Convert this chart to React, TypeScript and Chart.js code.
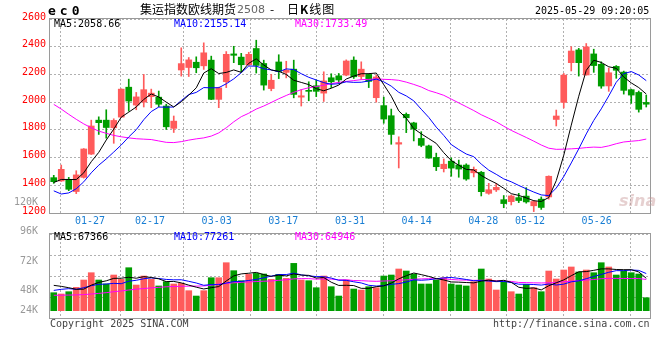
import React, { useEffect, useRef } from 'react';
import { Chart, registerables } from 'chart.js';

Chart.register(...registerables);

// ---------- data ----------
const dates = [
  '01-27', '02-05', '02-06', '02-07', '02-10', '02-11', '02-12', '02-13', '02-14', '02-17',
  '02-18', '02-19', '02-20', '02-21', '02-24', '02-25', '02-26', '02-27', '02-28', '03-03',
  '03-04', '03-05', '03-06', '03-07', '03-10', '03-11', '03-12', '03-13', '03-14', '03-17',
  '03-18', '03-19', '03-20', '03-21', '03-24', '03-25', '03-26', '03-27', '03-28', '03-31',
  '04-01', '04-02', '04-03', '04-04', '04-07', '04-08', '04-09', '04-10', '04-11', '04-14',
  '04-15', '04-16', '04-17', '04-18', '04-21', '04-22', '04-23', '04-24', '04-25', '04-28',
  '04-29', '04-30', '05-06', '05-07', '05-08', '05-09', '05-12', '05-13', '05-14', '05-15',
  '05-16', '05-19', '05-20', '05-21', '05-22', '05-23', '05-26', '05-27', '05-28', '05-29',
];

const open = [
  1455, 1431, 1443, 1355, 1457, 1625, 1870, 1870, 1815, 1892,
  2108, 1979, 2000, 2040, 2036, 1972, 1811, 2232, 2250, 2288,
  2262, 2303, 2020, 2147, 2348, 2325, 2270, 2387, 2279, 2098,
  2290, 2215, 2238, 2036, 2085, 2118, 2065, 2176, 2190, 2195,
  2303, 2185, 2200, 2032, 1975, 1902, 1697, 1912, 1850, 1738,
  1684, 1601, 1520, 1574, 1546, 1546, 1490, 1494, 1342, 1367,
  1296, 1282, 1311, 1322, 1252, 1300, 1316, 1875, 1998, 2285,
  2377, 2196, 2348, 2273, 2117, 2258, 2217, 2090, 2070, 1998,
];
const high = [
  1472, 1546, 1457, 1505, 1665, 1870, 1894, 1945, 1880, 2096,
  2166, 2070, 2200, 2094, 2080, 1985, 1900, 2392, 2322, 2327,
  2428, 2332, 2108, 2365, 2403, 2352, 2360, 2447, 2303, 2200,
  2342, 2295, 2303, 2090, 2147, 2160, 2219, 2205, 2207, 2305,
  2327, 2291, 2205, 2195, 2036, 1950, 1750, 1922, 1855, 1787,
  1690, 1632, 1590, 1598, 1582, 1555, 1532, 1500, 1414, 1414,
  1326, 1330, 1342, 1383, 1290, 1316, 1468, 1943, 2207, 2400,
  2388, 2423, 2382, 2291, 2246, 2264, 2224, 2094, 2080, 2051,
];
const low = [
  1414, 1428, 1361, 1340, 1452, 1622, 1767, 1740, 1703, 1890,
  1935, 1945, 1965, 1960, 1967, 1803, 1781, 2188, 2185, 2212,
  2236, 2018, 1960, 2105, 2285, 2215, 2265, 2210, 2087, 2082,
  2170, 2175, 2031, 1972, 2010, 2040, 2005, 2105, 2135, 2190,
  2171, 2165, 2105, 2000, 1848, 1696, 1525, 1780, 1720, 1678,
  1595, 1506, 1496, 1465, 1458, 1436, 1460, 1323, 1335, 1355,
  1238, 1258, 1275, 1271, 1210, 1226, 1300, 1828, 1958, 2225,
  2188, 2195, 2215, 2100, 2078, 2172, 2058, 1991, 1928, 1965,
];
const close = [
  1426, 1515, 1371, 1475, 1662, 1828, 1852, 1817, 1868, 2094,
  2008, 2038, 2090, 2065, 1985, 1822, 1863, 2278, 2305, 2248,
  2356, 2020, 2103, 2345, 2338, 2270, 2345, 2265, 2123, 2158,
  2222, 2230, 2056, 2046, 2078, 2078, 2153, 2147, 2160, 2297,
  2183, 2238, 2150, 2182, 1878, 1767, 1708, 1887, 1806, 1688,
  1596, 1534, 1552, 1524, 1517, 1445, 1515, 1354, 1368, 1385,
  1268, 1323, 1290, 1280, 1283, 1240, 1465, 1900, 2195, 2369,
  2285, 2399, 2264, 2116, 2212, 2230, 2085, 2051, 1948, 1985,
];

const ma5 = [
  1420, 1442, 1442, 1441, 1489.8, 1570.2, 1637.6, 1726.8, 1805.4, 1891.8,
  1927.8, 1965, 2019.6, 2059, 2037.2, 2000, 1965, 2002.6, 2050.6, 2103.2,
  2210, 2241.4, 2206.4, 2214.4, 2232.4, 2215.2, 2280.2, 2312.6, 2268.2, 2232.2,
  2222.6, 2199.6, 2157.8, 2142.4, 2126.4, 2097.6, 2082.2, 2100.4, 2123.2, 2167,
  2188, 2205, 2205.6, 2210, 2126.2, 2043, 1937, 1884.4, 1809.2, 1771.2,
  1737, 1702.2, 1635.2, 1578.8, 1544.6, 1514.4, 1510.6, 1471, 1439.8, 1413.4,
  1378, 1339.6, 1326.8, 1309.2, 1288.8, 1283.2, 1311.6, 1433.6, 1616.6, 1833.8,
  2042.8, 2229.6, 2302.4, 2286.6, 2255.2, 2244.2, 2181.4, 2138.8, 2105.2, 2058.66,
];
const ma10 = [
  1360, 1337, 1345, 1375, 1425, 1490, 1545, 1590, 1640, 1690.8,
  1749, 1801.3, 1873.2, 1932.2, 1964.5, 1963.9, 1965, 2011.1, 2054.8, 2070.2,
  2105, 2103.2, 2104.5, 2132.5, 2167.8, 2212.6, 2260.8, 2259.5, 2241.3, 2232.3,
  2218.9, 2239.9, 2235.2, 2205.3, 2179.3, 2160.1, 2140.9, 2129.1, 2132.8, 2146.7,
  2142.8, 2143.6, 2153, 2166.6, 2146.6, 2115.5, 2071, 2045, 2009.6, 1948.7,
  1890, 1819.6, 1759.8, 1694, 1657.9, 1625.7, 1606.4, 1553.1, 1509.3, 1479,
  1446.2, 1425.1, 1398.9, 1374.5, 1351.1, 1330.6, 1325.6, 1380.2, 1462.9, 1561.3,
  1663, 1770.6, 1868, 1951.6, 2044.5, 2143.5, 2205.5, 2220.6, 2195.9, 2155.14,
];
const ma30 = [
  1984, 1950, 1912, 1876, 1843, 1815, 1791, 1775, 1760, 1750,
  1742, 1736, 1733, 1730, 1720, 1710, 1708, 1715, 1726, 1735,
  1742, 1755, 1778, 1815, 1858, 1895, 1920, 1950, 1972, 1997.8,
  2024.3, 2048.1, 2071, 2090, 2103.9, 2112.2, 2122.2, 2133.2, 2143, 2149.7,
  2155.6, 2162.2, 2164.2, 2168.1, 2164.6, 2162.7, 2157.6, 2144.5, 2127.9, 2109.2,
  2083.9, 2067.7, 2049.3, 2022, 1994.6, 1967.1, 1939.4, 1909.1, 1883.9, 1858.1,
  1826.3, 1796.1, 1770.6, 1745, 1718.5, 1690.6, 1667.7, 1659.4, 1660.6, 1663,
  1666.4, 1671.8, 1675.6, 1673.4, 1684.5, 1699.9, 1712.5, 1718, 1722.7, 1733.49,
];

const volume = [
  37400, 34700, 39500, 48500, 63800, 79000, 63800, 55500, 74200, 65100,
  89400, 53400, 72100, 65100, 51400, 60300, 55500, 56800, 41600, 30500,
  41600, 68600, 68600, 99800, 83200, 62400, 75500, 77600, 76300, 65100,
  75500, 67200, 98400, 63800, 62400, 47800, 72100, 49900, 30500, 63800,
  45100, 43000, 49900, 47800, 72100, 74200, 86700, 82500, 76300, 55500,
  55500, 63800, 68600, 55500, 53400, 51400, 60300, 86700, 65900, 43000,
  60300, 39500, 34700, 54700, 47800, 39500, 82500, 65900, 84600, 90900,
  80500, 84600, 79000, 99800, 90900, 74200, 82500, 79000, 76300, 27000,
];
const volMa5 = [
  52700, 50600, 47800, 44400, 44780, 53100, 58920, 62120, 67260, 67520,
  69600, 67520, 70840, 69020, 66280, 60460, 60880, 57820, 53120, 48940,
  45200, 47820, 50180, 61820, 72360, 76520, 77900, 79700, 75000, 71380,
  74000, 72340, 76500, 74000, 73460, 67920, 68900, 59200, 52540, 52820,
  52280, 46460, 46460, 49920, 51580, 57400, 66140, 72660, 78360, 75040,
  71300, 66720, 63940, 59780, 59360, 58540, 57840, 61460, 63540, 61460,
  63240, 59080, 48680, 46440, 47400, 43240, 51840, 58080, 64060, 72680,
  80880, 81300, 83920, 86960, 86960, 85700, 85280, 85280, 80580, 67366,
];
const volMa10 = [
  42200, 44400, 45800, 44400, 47800, 52000, 54800, 55500, 56800, 56150,
  61350, 63220, 66480, 68140, 66900, 65030, 64200, 64330, 61070, 57610,
  52830, 54350, 54000, 57470, 60650, 60860, 62860, 64940, 68410, 71870,
  75260, 75120, 78100, 74500, 72420, 70960, 70620, 67850, 63270, 63140,
  60100, 57680, 52830, 51230, 52200, 54840, 56300, 59560, 64140, 63310,
  64350, 66430, 68300, 69070, 67200, 64920, 62280, 62700, 61660, 60410,
  60890, 58460, 55070, 54990, 54430, 53240, 55460, 53380, 55250, 60040,
  62060, 66570, 71000, 75510, 79820, 83290, 83290, 84600, 83770, 77261,
];
const volMa30 = [
  32000, 32200, 32500, 32800, 33500, 34700, 36000, 37500, 39500, 41000,
  43000, 44800, 46000, 47500, 48500, 49700, 50300, 50800, 51000, 51200,
  51500, 53000, 55500, 56800, 58000, 59000, 59800, 60600, 61300, 61880,
  63150, 64230, 66190, 66700, 66660, 65620, 65890, 65710, 64250, 64210,
  62730, 62380, 61640, 61070, 61760, 62220, 63260, 64120, 65270, 66110,
  66570, 66410, 66410, 64930, 63940, 63570, 63070, 63370, 63020, 62290,
  61780, 60860, 58730, 58430, 57940, 57670, 58010, 58550, 60350, 61250,
  62430, 63820, 64790, 66520, 67150, 67150, 67010, 66890, 66890, 64946,
];

const priceTicks = [1200, 1400, 1600, 1800, 2000, 2200, 2400, 2600];
const dateTicks = ['01-27', '02-17', '03-03', '03-17', '03-31', '04-14', '04-28', '05-12', '05-26'];
const volTickValues = [24000, 48000, 72000, 96000, 120000];
const volTickLabels = ['24K', '48K', '72K', '96K', '120K'];

// ---------- styles ----------
const UP = '#ff5b5b';
const DOWN = '#009d00';
const GRID = '#b0b0b0';
const FRAME = '#9a9a9a';
const MONO = "'DejaVu Sans Mono', monospace";
const CJK = "'Noto Sans CJK SC', sans-serif";

const framePlugin = {
  id: 'frame',
  afterDraw(chart: any) {
    const { ctx, chartArea: a } = chart;
    ctx.save();
    ctx.strokeStyle = FRAME;
    ctx.lineWidth = 1;
    ctx.setLineDash([]);
    ctx.strokeRect(Math.round(a.left) - 0.5, Math.round(a.top) - 0.5, Math.round(a.right - a.left) + 1, Math.round(a.bottom - a.top) + 1);
    ctx.restore();
  },
};

function dateAxis(showLabels: boolean, height: number) {
  const tickIdx = dateTicks.map((d) => dates.indexOf(d));
  return {
    type: 'linear',
    position: 'bottom',
    min: -0.5,
    max: dates.length - 0.5,
    afterBuildTicks: (s: any) => {
      s.ticks = tickIdx.map((i) => ({ value: i + 0.5 }));
    },
    afterFit: (s: any) => {
      s.height = height;
    },
    ticks: {
      display: showLabels,
      autoSkip: false,
      maxRotation: 0,
      color: '#1a7fd4',
      font: { family: MONO, size: 10 },
      padding: 2,
      callback: (v: any) => dates[Math.round(Number(v) - 0.5)],
    },
    grid: { color: GRID, drawTicks: false, lineWidth: 1 },
    border: { display: false, dash: [2, 2] },
  };
}

function lineDs(label: string, data: number[], color: string) {
  return {
    type: 'line',
    label,
    data,
    borderColor: color,
    backgroundColor: color,
    borderWidth: 1,
    pointRadius: 0,
    tension: 0,
    order: 0,
    xAxisID: 'x',
    yAxisID: 'y',
  };
}

export default function App() {
  const priceRef = useRef<HTMLCanvasElement>(null);
  const volRef = useRef<HTMLCanvasElement>(null);

  useEffect(() => {
    const colors = close.map((c, i) => (c >= open[i] ? UP : DOWN));

    const price = new Chart(priceRef.current as HTMLCanvasElement, {
      type: 'bar',
      data: {
        labels: dates,
        datasets: [
          lineDs('MA5', ma5, '#000000'),
          lineDs('MA10', ma10, '#0000ff'),
          lineDs('MA30', ma30, '#ff00ff'),
          {
            type: 'bar',
            label: 'wick',
            data: dates.map((_, i) => [low[i], high[i]]),
            backgroundColor: colors,
            barThickness: 1,
            grouped: false,
            order: 2,
            xAxisID: 'x',
            yAxisID: 'y',
          },
          {
            type: 'bar',
            label: 'body',
            data: dates.map((_, i) => [open[i], close[i]]),
            backgroundColor: colors,
            barThickness: 6,
            minBarLength: 1,
            grouped: false,
            order: 1,
            xAxisID: 'x',
            yAxisID: 'y',
          },
        ] as any,
      },
      options: {
        animation: false,
        responsive: false,
        maintainAspectRatio: false,
        events: [],
        layout: { padding: { top: 19, right: 10, left: 0, bottom: 0 } },
        plugins: { legend: { display: false }, tooltip: { enabled: false } },
        scales: {
          x: { type: 'category', display: false, offset: true },
          xt: dateAxis(true, 19),
          y: {
            type: 'linear',
            position: 'left',
            min: 1200,
            max: 2600,
            afterBuildTicks: (s: any) => {
              s.ticks = priceTicks.map((v) => ({ value: v }));
            },
            afterFit: (s: any) => {
              s.width = 50;
            },
            ticks: {
              color: '#ff0000',
              font: { family: MONO, size: 10 },
              padding: 4,
              labelOffset: -2,
              autoSkip: false,
              callback: (v: any) => String(v),
            },
            grid: { color: GRID, drawTicks: false, lineWidth: 1 },
            border: { display: false, dash: [2, 2] },
          },
        } as any,
      },
      plugins: [framePlugin],
    } as any);

    const volMin = -15200;
    const volMax = 159500;
    const vol = new Chart(volRef.current as HTMLCanvasElement, {
      type: 'bar',
      data: {
        labels: dates,
        datasets: [
          lineDs('MA5', volMa5, '#000000'),
          lineDs('MA10', volMa10, '#0000ff'),
          lineDs('MA30', volMa30, '#ff00ff'),
          {
            type: 'bar',
            label: 'volume',
            data: volume,
            backgroundColor: colors,
            barThickness: 6,
            order: 1,
            xAxisID: 'x',
            yAxisID: 'y',
          },
        ] as any,
      },
      options: {
        animation: false,
        responsive: false,
        maintainAspectRatio: false,
        events: [],
        layout: { padding: { top: 44, right: 10, left: 0, bottom: 0 } },
        plugins: { legend: { display: false }, tooltip: { enabled: false } },
        scales: {
          x: { type: 'category', display: false, offset: true },
          xv: dateAxis(false, 22),
          y: {
            type: 'linear',
            position: 'right',
            min: volMin,
            max: volMax,
            afterBuildTicks: (s: any) => {
              s.ticks = [0, 1, 2, 3, 4].map((k) => ({ value: s.min + (k * (s.max - s.min)) / 4 }));
            },
            afterFit: (s: any) => {
              s.width = 0;
            },
            ticks: { display: false },
            grid: { color: GRID, drawTicks: false, lineWidth: 1 },
            border: { display: false, dash: [2, 2] },
          },
          yl: {
            type: 'linear',
            position: 'left',
            min: 25790,
            max: 94130,
            afterBuildTicks: (s: any) => {
              const floor = s.min + (s.max - s.min) * 0.087;
              s.ticks = volTickValues.map((v) => ({ value: Math.max(v, floor) }));
            },
            afterFit: (s: any) => {
              s.width = 50;
            },
            ticks: {
              color: '#999999',
              font: { family: MONO, size: 10 },
              padding: 4,
              autoSkip: false,
              callback: (_v: any, i: number) => volTickLabels[i],
            },
            grid: { display: false },
            border: { display: false },
          },
        } as any,
      },
      plugins: [framePlugin],
    } as any);

    return () => {
      price.destroy();
      vol.destroy();
    };
  }, []);

  const txt = (extra: any): any => ({
    position: 'absolute',
    whiteSpace: 'pre',
    fontFamily: MONO,
    fontSize: 10,
    lineHeight: '12px',
    ...extra,
  });

  return (
    <div style={{ position: 'fixed', left: 0, top: 0, width: 660, height: 360, background: '#fff', overflow: 'hidden' }}>
      <canvas ref={priceRef} width={660} height={232} style={{ position: 'absolute', left: 0, top: 0 }} />
      <canvas ref={volRef} width={660} height={150} style={{ position: 'absolute', left: 0, top: 190 }} />

      <div style={txt({ left: 48, top: 3, fontSize: 13, fontWeight: 'bold', letterSpacing: '4px', lineHeight: '15px' })}>ec0</div>
      <div style={txt({ left: 140, top: 1, fontFamily: CJK, fontSize: 12, lineHeight: '15px' })}>集运指数欧线期货</div>
      <div style={txt({ left: 237, top: 3, fontFamily: "'DejaVu Sans', sans-serif", fontSize: 11, color: '#666', lineHeight: '13px' })}>2508</div>
      <div style={txt({ left: 270, top: 1, fontFamily: CJK, fontSize: 12, lineHeight: '15px' })}>-</div>
      <div style={txt({ left: 287, top: 1, fontFamily: CJK, fontSize: 12, lineHeight: '15px', letterSpacing: '1px' })}>
        日<b>K</b>线图
      </div>
      <div style={txt({ left: 535, top: 5 })}>2025-05-29 09:20:05</div>

      <div style={txt({ left: 54, top: 18, color: '#000' })}>MA5:2058.66</div>
      <div style={txt({ left: 174, top: 18, color: '#0000ff' })}>MA10:2155.14</div>
      <div style={txt({ left: 295, top: 18, color: '#ff00ff' })}>MA30:1733.49</div>

      <div style={txt({ left: 54, top: 231, color: '#000' })}>MA5:67366</div>
      <div style={txt({ left: 174, top: 231, color: '#0000ff' })}>MA10:77261</div>
      <div style={txt({ left: 295, top: 231, color: '#ff00ff' })}>MA30:64946</div>

      <div style={txt({ left: 50, top: 318, color: '#444' })}>Copyright 2025 SINA.COM</div>
      <div style={txt({ left: 493, top: 318, color: '#444' })}>http://finance.sina.com.cn</div>

      <div style={txt({ left: 619, top: 192, fontFamily: "'DejaVu Sans', sans-serif", fontSize: 16, fontStyle: 'italic', fontWeight: 'bold', color: 'rgba(200,150,150,0.45)', lineHeight: '18px' })}>sina</div>
    </div>
  );
}
